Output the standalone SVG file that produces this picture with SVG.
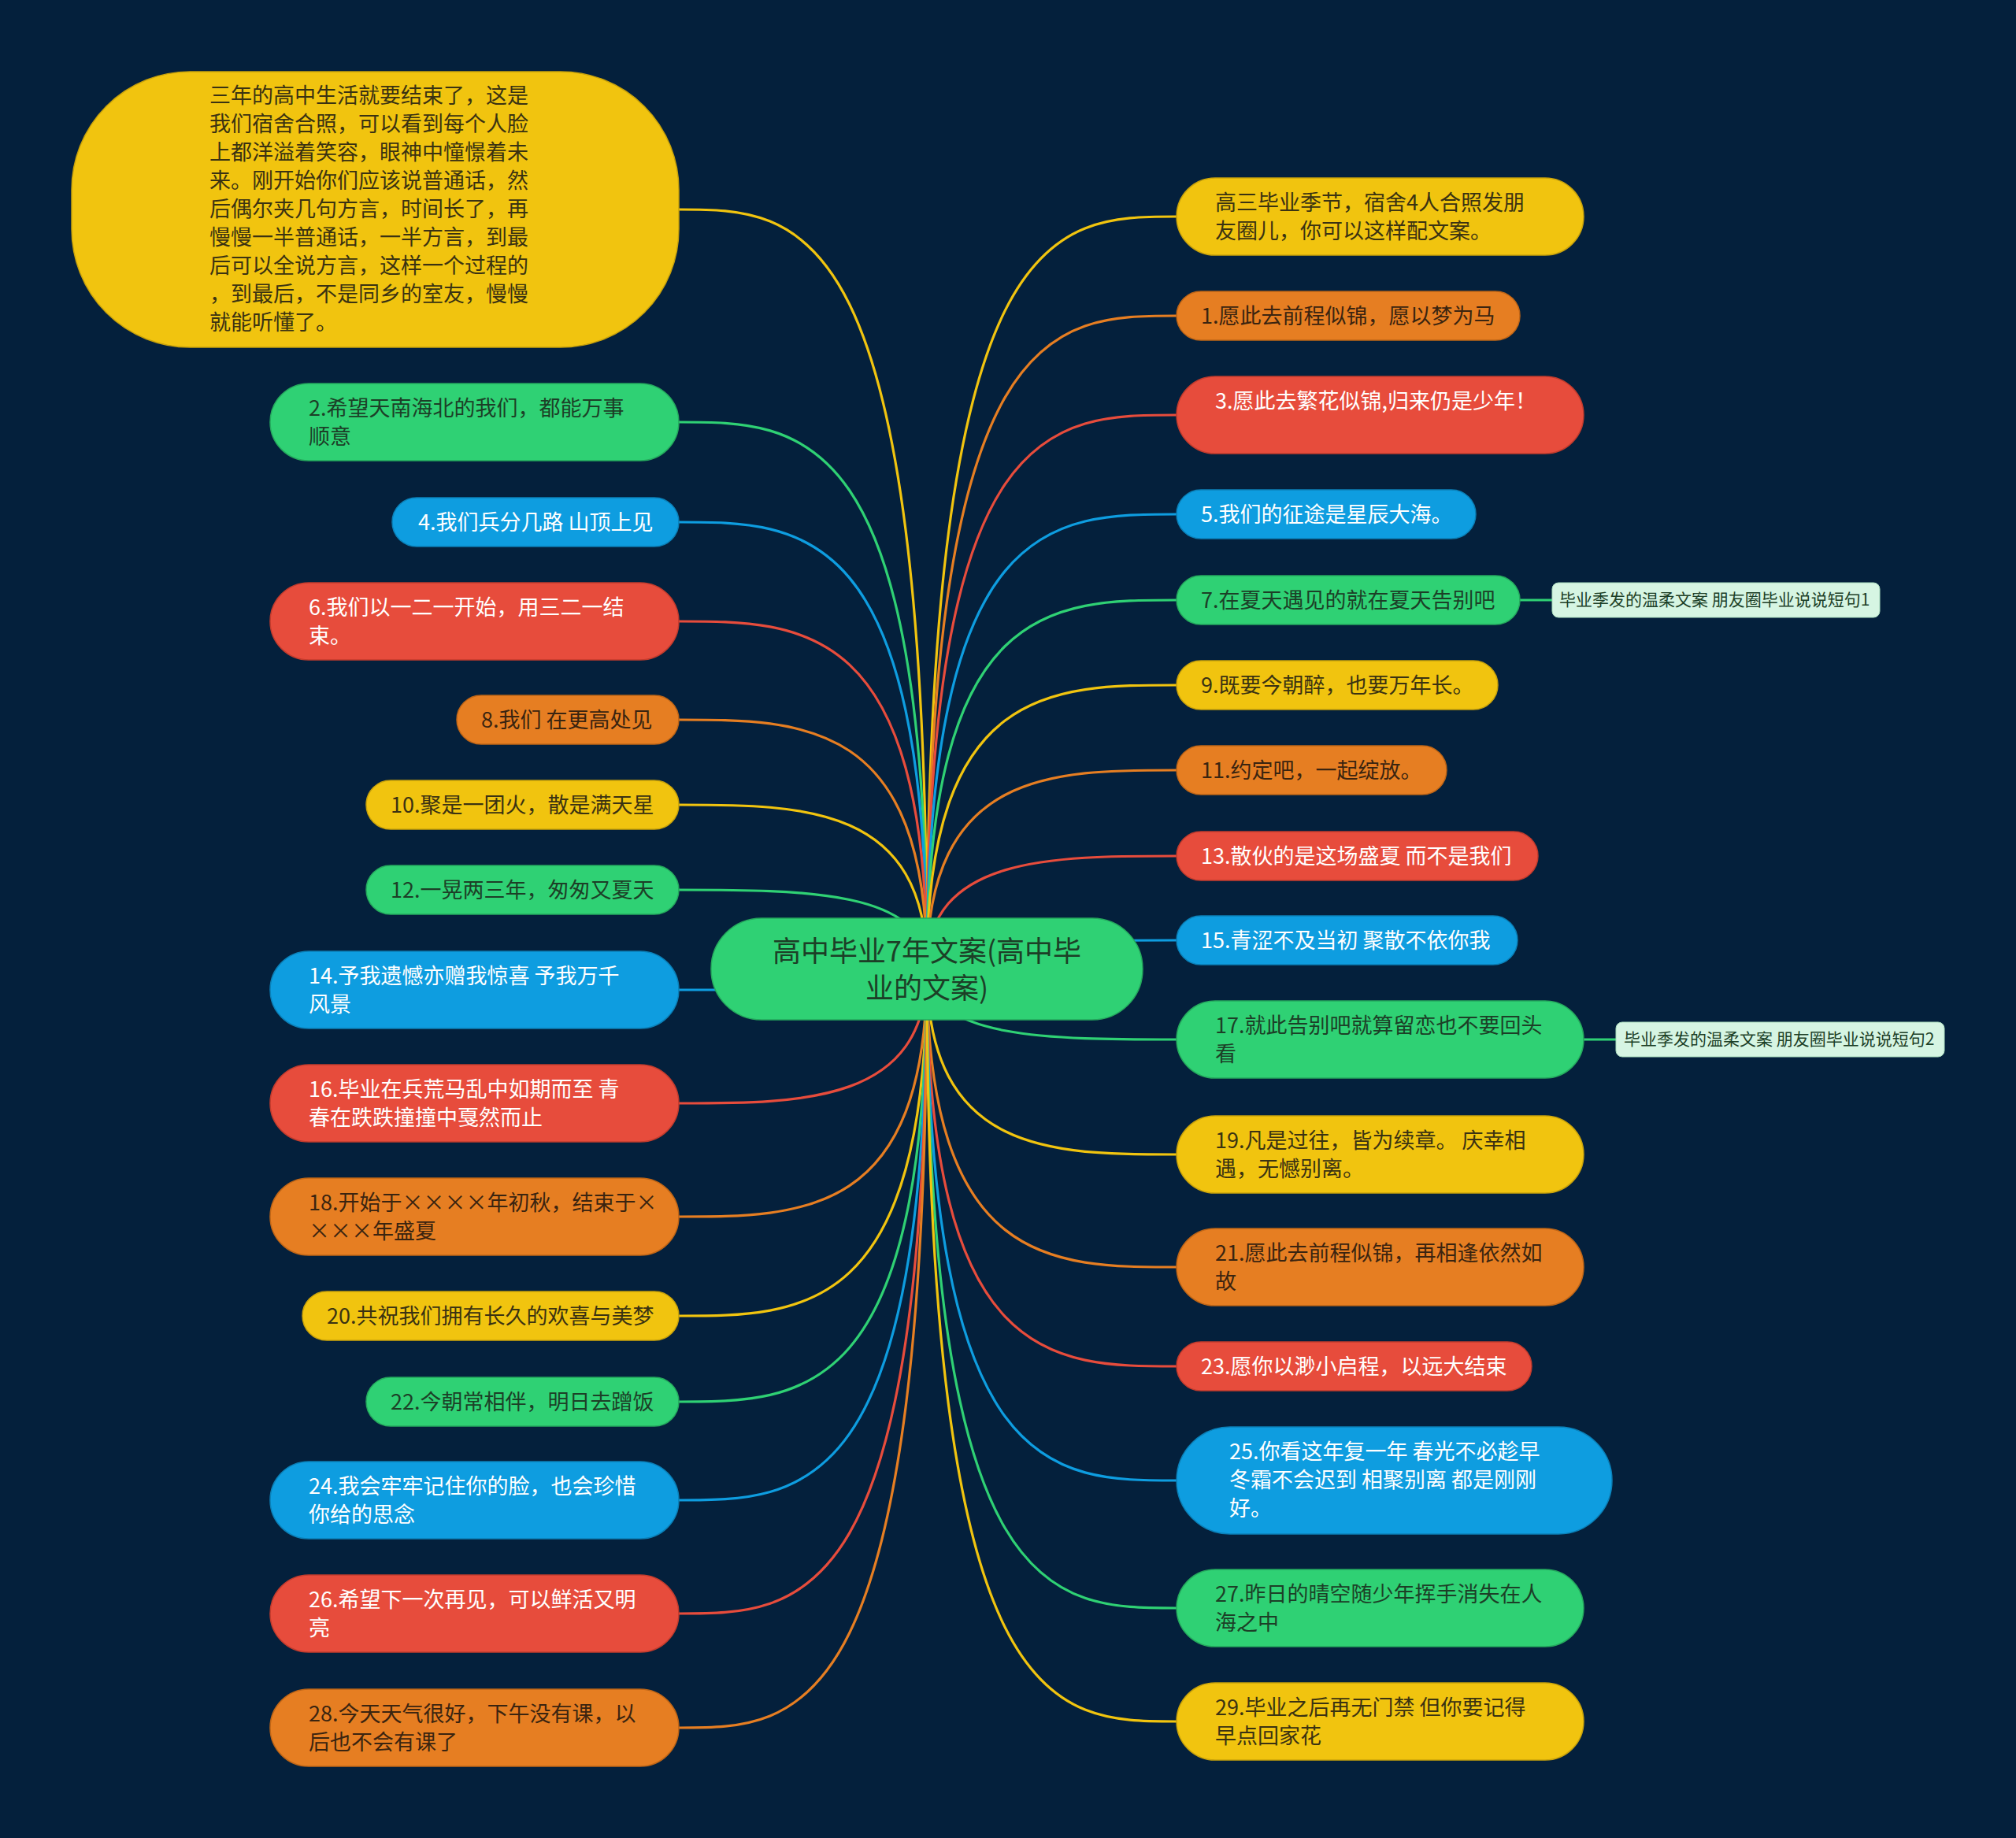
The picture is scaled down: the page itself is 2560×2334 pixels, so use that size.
<svg xmlns="http://www.w3.org/2000/svg" width="2560" height="2334" viewBox="0 0 2560 2334">
<style>
text{font-family:"Noto Sans CJK SC","Noto Sans",sans-serif;font-size:27px;dominant-baseline:central;transform:translateY(-2px)}
.c path{fill:none;stroke-width:3.2}
.ly{stroke:#f1c40f}.lo{stroke:#e67e22}.lr{stroke:#e74c3c}.lb{stroke:#0e9de0}.lg{stroke:#2fd174}
.y rect{fill:#f1c40f;stroke:#c9a20a;stroke-width:1.5}.y text{fill:#3a3212}
.o rect{fill:#e67e22;stroke:#bf6516;stroke-width:1.5}.o text{fill:#3a2410}
.r rect{fill:#e74c3c;stroke:#c23b2d;stroke-width:1.5}.r text{fill:#ffffff}
.b rect{fill:#0e9de0;stroke:#0b80b8;stroke-width:1.5}.b text{fill:#ffffff}
.g rect{fill:#2fd174;stroke:#25a95d;stroke-width:1.5}.g text{fill:#1c3f27}
.s rect{fill:#d6f5e3;stroke:#a9dcbd;stroke-width:1}.s text{fill:#1c3f27;font-size:21px}
</style>
<rect width="2560" height="2334" fill="#04203c"/>
<g class="c" id="connectors">
<path class="ly" d="M1177 1230 C1177 266 1020 266 862 266"/>
<path class="lg" d="M1177 1230 C1177 536 1020 536 862 536"/>
<path class="lb" d="M1177 1230 C1177 663 1020 663 862 663"/>
<path class="lr" d="M1177 1230 C1177 789 1020 789 862 789"/>
<path class="lo" d="M1177 1230 C1177 914 1020 914 862 914"/>
<path class="ly" d="M1177 1230 C1177 1022 1020 1022 862 1022"/>
<path class="lg" d="M1177 1230 C1177 1130 1020 1130 862 1130"/>
<path class="lb" d="M1177 1230 C1177 1257 1020 1257 862 1257"/>
<path class="lr" d="M1177 1230 C1177 1401 1020 1401 862 1401"/>
<path class="lo" d="M1177 1230 C1177 1545 1020 1545 862 1545"/>
<path class="ly" d="M1177 1230 C1177 1671 1020 1671 862 1671"/>
<path class="lg" d="M1177 1230 C1177 1780 1020 1780 862 1780"/>
<path class="lb" d="M1177 1230 C1177 1905 1020 1905 862 1905"/>
<path class="lr" d="M1177 1230 C1177 2049 1020 2049 862 2049"/>
<path class="lo" d="M1177 1230 C1177 2194 1020 2194 862 2194"/>
<path class="ly" d="M1177 1230 C1177 275 1336 275 1494 275"/>
<path class="lo" d="M1177 1230 C1177 401 1336 401 1494 401"/>
<path class="lr" d="M1177 1230 C1177 527 1336 527 1494 527"/>
<path class="lb" d="M1177 1230 C1177 653 1336 653 1494 653"/>
<path class="lg" d="M1177 1230 C1177 762 1336 762 1494 762"/>
<path class="ly" d="M1177 1230 C1177 870 1336 870 1494 870"/>
<path class="lo" d="M1177 1230 C1177 978 1336 978 1494 978"/>
<path class="lr" d="M1177 1230 C1177 1087 1336 1087 1494 1087"/>
<path class="lb" d="M1177 1230 C1177 1194 1336 1194 1494 1194"/>
<path class="lg" d="M1177 1230 C1177 1320 1336 1320 1494 1320"/>
<path class="ly" d="M1177 1230 C1177 1466 1336 1466 1494 1466"/>
<path class="lo" d="M1177 1230 C1177 1609 1336 1609 1494 1609"/>
<path class="lr" d="M1177 1230 C1177 1735 1336 1735 1494 1735"/>
<path class="lb" d="M1177 1230 C1177 1880 1336 1880 1494 1880"/>
<path class="lg" d="M1177 1230 C1177 2042 1336 2042 1494 2042"/>
<path class="ly" d="M1177 1230 C1177 2186 1336 2186 1494 2186"/>
<path class="lg" d="M1930 762 L1971 762"/>
<path class="lg" d="M2011 1320 L2052 1320"/>
</g>
<g id="center" class="g"><rect x="903" y="1166" width="548" height="129" rx="64"/><text x="1177" y="1207" text-anchor="middle" style="font-size:36px">高中毕业7年文案(高中毕</text><text x="1177" y="1254" text-anchor="middle" style="font-size:36px">业的文案)</text></g>
<g id="nL0" class="y"><rect x="91" y="91" width="771" height="350" rx="150"/>
<text x="266" y="121">三年的高中生活就要结束了，这是</text>
<text x="266" y="157">我们宿舍合照，可以看到每个人脸</text>
<text x="266" y="193">上都洋溢着笑容，眼神中憧憬着未</text>
<text x="266" y="229">来。刚开始你们应该说普通话，然</text>
<text x="266" y="265">后偶尔夹几句方言，时间长了，再</text>
<text x="266" y="301">慢慢一半普通话，一半方言，到最</text>
<text x="266" y="337">后可以全说方言，这样一个过程的</text>
<text x="266" y="373">，到最后，不是同乡的室友，慢慢</text>
<text x="266" y="409">就能听懂了。</text></g>
<g id="nL2" class="g"><rect x="343" y="487" width="519" height="98" rx="49"/><text x="392" y="518">2.希望天南海北的我们，都能万事</text><text x="392" y="554">顺意</text></g>
<g id="nL4" class="b"><rect x="498" y="632" width="364" height="62" rx="31"/><text x="531" y="663">4.我们兵分几路 山顶上见</text></g>
<g id="nL6" class="r"><rect x="343" y="740" width="519" height="98" rx="49"/><text x="392" y="771">6.我们以一二一开始，用三二一结</text><text x="392" y="807">束。</text></g>
<g id="nL8" class="o"><rect x="580" y="883" width="282" height="62" rx="31"/><text x="611" y="914">8.我们 在更高处见</text></g>
<g id="nL10" class="y"><rect x="465" y="991" width="397" height="62" rx="31"/><text x="496" y="1022">10.聚是一团火，散是满天星</text></g>
<g id="nL12" class="g"><rect x="465" y="1099" width="397" height="62" rx="31"/><text x="496" y="1130">12.一晃两三年，匆匆又夏天</text></g>
<g id="nL14" class="b"><rect x="343" y="1208" width="519" height="98" rx="49"/><text x="392" y="1239">14.予我遗憾亦赠我惊喜 予我万千</text><text x="392" y="1275">风景</text></g>
<g id="nL16" class="r"><rect x="343" y="1352" width="519" height="98" rx="49"/><text x="392" y="1383">16.毕业在兵荒马乱中如期而至 青</text><text x="392" y="1419">春在跌跌撞撞中戛然而止</text></g>
<g id="nL18" class="o"><rect x="343" y="1496" width="519" height="98" rx="49"/><text x="392" y="1527">18.开始于××××年初秋，结束于×</text><text x="392" y="1563">×××年盛夏</text></g>
<g id="nL20" class="y"><rect x="384" y="1640" width="478" height="62" rx="31"/><text x="415" y="1671">20.共祝我们拥有长久的欢喜与美梦</text></g>
<g id="nL22" class="g"><rect x="465" y="1749" width="397" height="62" rx="31"/><text x="496" y="1780">22.今朝常相伴，明日去蹭饭</text></g>
<g id="nL24" class="b"><rect x="343" y="1856" width="519" height="98" rx="49"/><text x="392" y="1887">24.我会牢牢记住你的脸，也会珍惜</text><text x="392" y="1923">你给的思念</text></g>
<g id="nL26" class="r"><rect x="343" y="2000" width="519" height="98" rx="49"/><text x="392" y="2031">26.希望下一次再见，可以鲜活又明</text><text x="392" y="2067">亮</text></g>
<g id="nL28" class="o"><rect x="343" y="2145" width="519" height="98" rx="49"/><text x="392" y="2176">28.今天天气很好，下午没有课，以</text><text x="392" y="2212">后也不会有课了</text></g>
<g id="nR0" class="y"><rect x="1494" y="226" width="517" height="98" rx="49"/><text x="1543" y="257">高三毕业季节，宿舍4人合照发朋</text><text x="1543" y="293">友圈儿，你可以这样配文案。</text></g>
<g id="nR1" class="o"><rect x="1494" y="370" width="436" height="62" rx="31"/><text x="1525" y="401">1.愿此去前程似锦，愿以梦为马</text></g>
<g id="nR3" class="r"><rect x="1494" y="478" width="517" height="98" rx="49"/><text x="1543" y="509">3.愿此去繁花似锦,归来仍是少年！</text></g>
<g id="nR5" class="b"><rect x="1494" y="622" width="380" height="62" rx="31"/><text x="1525" y="653">5.我们的征途是星辰大海。</text></g>
<g id="nR7" class="g"><rect x="1494" y="731" width="436" height="62" rx="31"/><text x="1525" y="762">7.在夏天遇见的就在夏天告别吧</text></g>
<g id="nS1" class="s"><rect x="1971" y="740" width="416" height="44" rx="8"/><text x="1980" y="762">毕业季发的温柔文案 朋友圈毕业说说短句1</text></g>
<g id="nR9" class="y"><rect x="1494" y="839" width="408" height="62" rx="31"/><text x="1525" y="870">9.既要今朝醉，也要万年长。</text></g>
<g id="nR11" class="o"><rect x="1494" y="947" width="343" height="62" rx="31"/><text x="1525" y="978">11.约定吧，一起绽放。</text></g>
<g id="nR13" class="r"><rect x="1494" y="1056" width="459" height="62" rx="31"/><text x="1525" y="1087">13.散伙的是这场盛夏 而不是我们</text></g>
<g id="nR15" class="b"><rect x="1494" y="1163" width="433" height="62" rx="31"/><text x="1525" y="1194">15.青涩不及当初 聚散不依你我</text></g>
<g id="nR17" class="g"><rect x="1494" y="1271" width="517" height="98" rx="49"/><text x="1543" y="1302">17.就此告别吧就算留恋也不要回头</text><text x="1543" y="1338">看</text></g>
<g id="nS2" class="s"><rect x="2052" y="1298" width="417" height="44" rx="8"/><text x="2062" y="1320">毕业季发的温柔文案 朋友圈毕业说说短句2</text></g>
<g id="nR19" class="y"><rect x="1494" y="1417" width="517" height="98" rx="49"/><text x="1543" y="1448">19.凡是过往，皆为续章。 庆幸相</text><text x="1543" y="1484">遇，无憾别离。</text></g>
<g id="nR21" class="o"><rect x="1494" y="1560" width="517" height="98" rx="49"/><text x="1543" y="1591">21.愿此去前程似锦，再相逢依然如</text><text x="1543" y="1627">故</text></g>
<g id="nR23" class="r"><rect x="1494" y="1704" width="451" height="62" rx="31"/><text x="1525" y="1735">23.愿你以渺小启程，以远大结束</text></g>
<g id="nR25" class="b"><rect x="1494" y="1812" width="553" height="136" rx="68"/><text x="1561" y="1843">25.你看这年复一年 春光不必趁早</text><text x="1561" y="1879">冬霜不会迟到 相聚别离 都是刚刚</text><text x="1561" y="1915">好。</text></g>
<g id="nR27" class="g"><rect x="1494" y="1993" width="517" height="98" rx="49"/><text x="1543" y="2024">27.昨日的晴空随少年挥手消失在人</text><text x="1543" y="2060">海之中</text></g>
<g id="nR29" class="y"><rect x="1494" y="2137" width="517" height="98" rx="49"/><text x="1543" y="2168">29.毕业之后再无门禁 但你要记得</text><text x="1543" y="2204">早点回家花</text></g>
</svg>
